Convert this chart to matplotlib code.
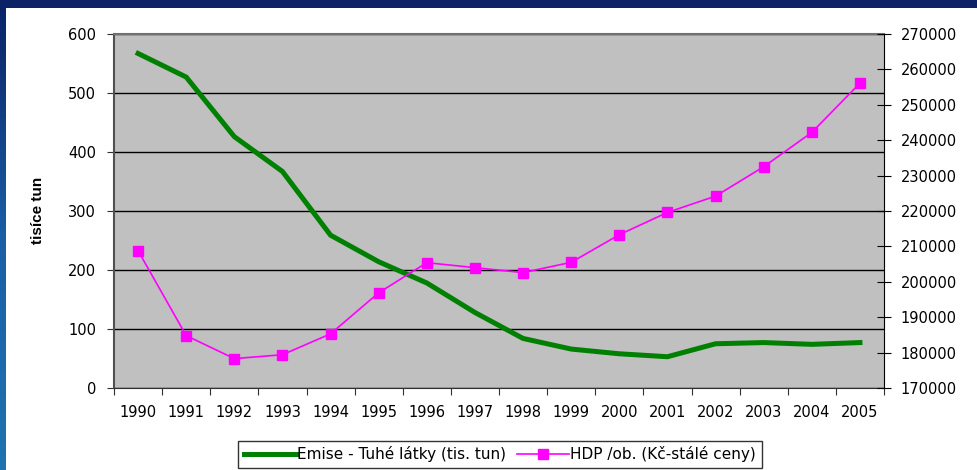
import numpy as np
import matplotlib
matplotlib.use("Agg")
from matplotlib import pyplot as plt
from matplotlib.colors import LinearSegmentedColormap

# data
roky = ["1990", "1991", "1992", "1993", "1994", "1995", "1996", "1997",
        "1998", "1999", "2000", "2001", "2002", "2003", "2004", "2005"]
emise = [567, 527, 426, 367, 259, 214, 178, 128, 84, 66, 58, 53, 75, 77, 74, 77]
hdp = [208800, 184800, 178300, 179400, 185300, 196900, 205400, 204000,
       202600, 205500, 213300, 219600, 224200, 232500, 242200, 256100]
levy_ticks = [0, 100, 200, 300, 400, 500, 600]
pravy_ticks = list(range(170000, 270001, 10000))

plt.rcParams["font.family"] = ["DejaVu Sans"]
FS = 10.5

fig = plt.figure(figsize=(9.77, 4.70), dpi=100)
fig.patch.set_facecolor("white")

# modry ramecek slidu (horni pruh + levy prechod)
fig.patches.append(plt.Rectangle((0, 1 - 8 / 470), 1, 8 / 470, transform=fig.transFigure,
                                 facecolor="#0B2366", edgecolor="none", zorder=0))
bar_ax = fig.add_axes([0, 0, 6 / 977, 1 - 8 / 470])
cmap = LinearSegmentedColormap.from_list("modra", ["#0B2366", "#1A5FA6", "#1E73B0"])
bar_ax.imshow(np.linspace(0, 1, 100).reshape(-1, 1), aspect="auto", cmap=cmap)
bar_ax.set_axis_off()

ax = fig.add_axes([114 / 977, 1 - 388 / 470, 770 / 977, 354 / 470])
ax.set_facecolor("#C0C0C0")
x = np.arange(len(roky)) + 0.5

ax.plot(x, emise, color="#008000", lw=3.6, solid_joinstyle="miter",
        label="Emise - Tuhé látky (tis. tun)", zorder=3)
ax.set_xlim(0, len(roky))
ax.set_ylim(0, 600)
ax.set_yticks(levy_ticks)
ax.yaxis.grid(True, color="black", lw=1)
ax.set_axisbelow(True)
ax.set_xticks(np.arange(len(roky) + 1))
ax.set_xticklabels([])
ax.set_xticks(x, minor=True)
ax.set_xticklabels(roky, minor=True, fontsize=FS)
ax.tick_params(axis="x", which="major", direction="out", length=5, color="#303030")
ax.tick_params(axis="x", which="minor", length=0, pad=12)
ax.tick_params(axis="y", direction="out", length=5, pad=8, labelsize=FS, color="#303030")
ax.spines["top"].set_color("#707070")
ax.spines["top"].set_linewidth(1.5)
ax.spines["left"].set_color("#505050")
ax.spines["left"].set_linewidth(1.5)
ax.spines["bottom"].set_color("#303030")
ax.spines["right"].set_visible(False)

ax2 = ax.twinx()
ax2.plot(x, hdp, color="#FF00FF", lw=1.2, marker="s", markersize=7.5,
         markeredgecolor="#FF00FF", label="HDP /ob. (Kč-stálé ceny)", zorder=4)
ax2.set_ylim(170000, 270000)
ax2.set_yticks(pravy_ticks)
ax2.tick_params(axis="y", direction="inout", length=10, pad=7, labelsize=FS)
for s in ["top", "left", "bottom"]:
    ax2.spines[s].set_visible(False)
ax2.spines["right"].set_color("black")

fig.text(38 / 977, 1 - 210 / 470, "tisíce tun", rotation=90, ha="center", va="center",
         fontsize=11, fontweight="bold", family=["Liberation Sans", "DejaVu Sans"])

h1, l1 = ax.get_legend_handles_labels()
h2, l2 = ax2.get_legend_handles_labels()
leg = fig.legend(h1 + h2, l1 + l2, loc="upper center", bbox_to_anchor=(500 / 977, 1 - 441 / 470),
                 ncol=2, frameon=True, fancybox=False, shadow=False, fontsize=11,
                 handlelength=3.4, handletextpad=0.1, columnspacing=0.7, borderpad=0.35,
                 borderaxespad=0)
leg.get_frame().set_edgecolor("black")
leg.get_frame().set_linewidth(1)

fig.savefig("out.png", dpi=100, facecolor=fig.get_facecolor())
